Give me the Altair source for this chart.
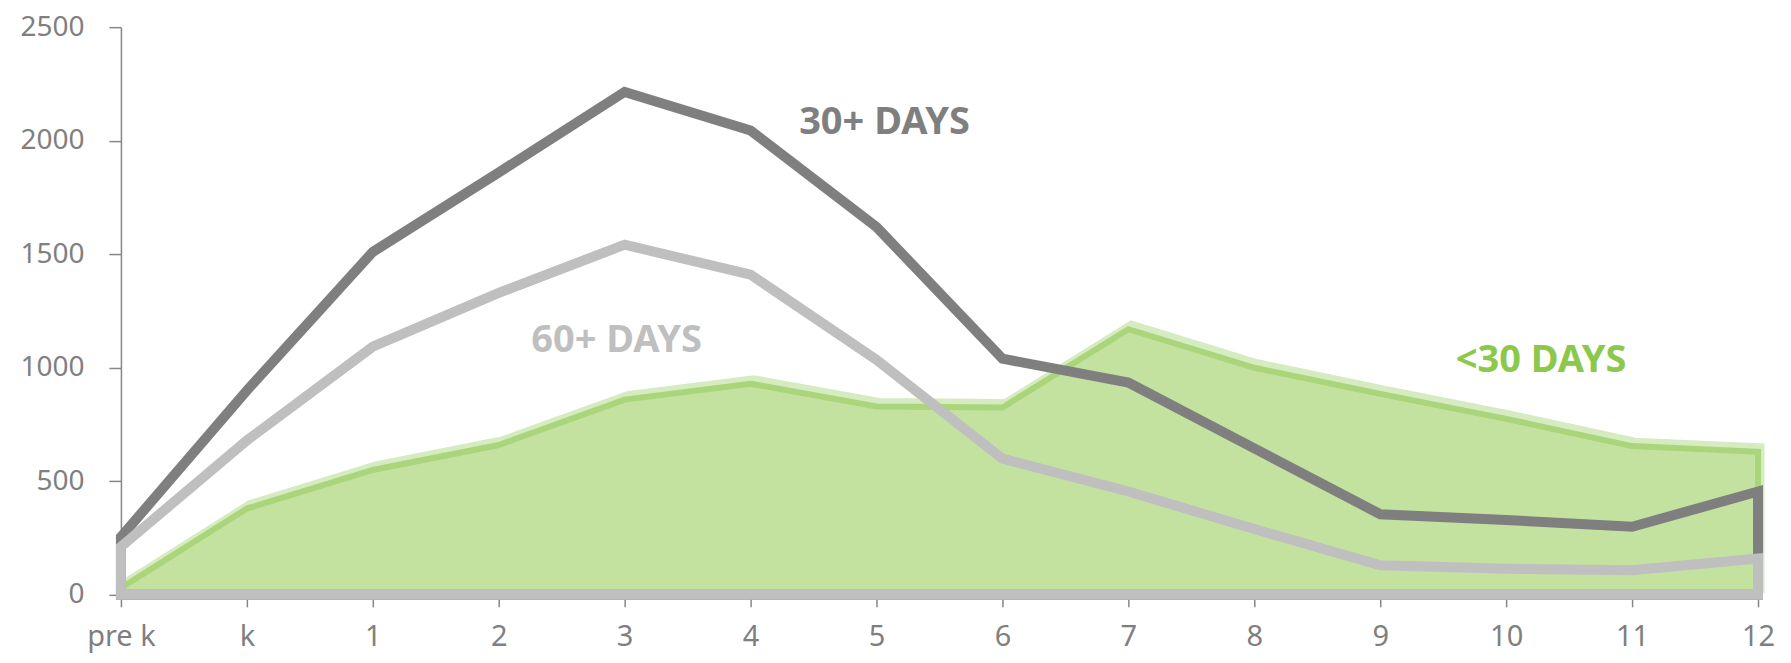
import altair as alt
import pandas as pd

categories = ["pre k", "k", "1", "2", "3", "4", "5", "6", "7", "8", "9", "10", "11", "12"]
days_30_plus = [255, 900, 1510, 1860, 2215, 2045, 1620, 1040, 935, 645, 355, 330, 300, 455]
days_60_plus = [212, 680, 1093, 1330, 1542, 1410, 1035, 600, 455, 290, 130, 115, 108, 160]
days_under_30 = [30, 380, 550, 660, 860, 930, 830, 825, 1170, 1000, 885, 775, 655, 630]
y_ticks = [0, 500, 1000, 1500, 2000, 2500]

label_texts = ["30+ DAYS", "60+ DAYS", "<30 DAYS"]
label_cats = ["5", "3", "10"]
label_values = [2080, 1120, 1031]
label_colors = ["#7F7F7F", "#BFBFBF", "#8CC84B"]
label_dx = [8, -8, 35]

df = pd.DataFrame({
    "cat": categories,
    "d30": days_30_plus,
    "d60": days_60_plus,
    "lt30": days_under_30,
})

FONT = "Noto Sans"

x_scale = alt.Scale(type="point", padding=0)
y_scale = alt.Scale(domain=[0, 2500])

x_axis = alt.Axis(
    title=None, labelAngle=0, grid=False, domainColor="#868686", domainWidth=1.5,
    tickColor="#868686", tickWidth=1.5, tickSize=12, labelFont=FONT,
    labelFontSize=29, labelColor="#7F7F7F", labelPadding=16,
)
y_axis = alt.Axis(
    title=None, values=y_ticks, format="d", grid=False, domainColor="#868686",
    domainWidth=1.5, tickColor="#868686", tickWidth=1.5, tickSize=12,
    labelFont=FONT, labelFontSize=28, labelColor="#7F7F7F", labelPadding=25,
)


def enc(field):
    return dict(
        x=alt.X("cat:O", sort=categories, scale=x_scale, axis=x_axis),
        y=alt.Y(f"{field}:Q", scale=y_scale, axis=y_axis),
    )


base = alt.Chart(df)

glow = base.mark_area(
    fillOpacity=0, stroke="#D5EBC0", strokeWidth=7, strokeJoin="miter",
    xOffset=3, yOffset=-5,
).encode(**enc("lt30"))

green = base.mark_area(
    fill="#C3E29F", stroke="#AAD57A", strokeWidth=6, strokeJoin="miter",
).encode(**enc("lt30"))

dark = base.mark_area(
    fillOpacity=0, stroke="#7F7F7F", strokeWidth=10, strokeJoin="miter",
).encode(**enc("d30"))

light = base.mark_area(
    fillOpacity=0, stroke="#BFBFBF", strokeWidth=10, strokeJoin="miter",
).encode(**enc("d60"))

labels_df = pd.DataFrame({
    "text": label_texts, "cat": label_cats, "value": label_values,
})

text_layers = []
for i in range(len(label_texts)):
    t = alt.Chart(labels_df.iloc[[i]]).mark_text(
        font=FONT, fontSize=38, fontWeight="bold", color=label_colors[i],
        align="center", baseline="middle", dx=label_dx[i],
    ).encode(
        text="text:N", **enc("value")
    )
    text_layers.append(t)

chart = alt.layer(glow, green, dark, light, *text_layers).properties(
    width=1638, height=568,
    background="white",
    autosize=alt.AutoSizeParams(type="none"),
    padding={"left": 113, "top": 19, "right": 25, "bottom": 60},
).configure_view(stroke="transparent", strokeWidth=0)

chart.save("out.html", embed_options={"renderer": "svg", "actions": False})
